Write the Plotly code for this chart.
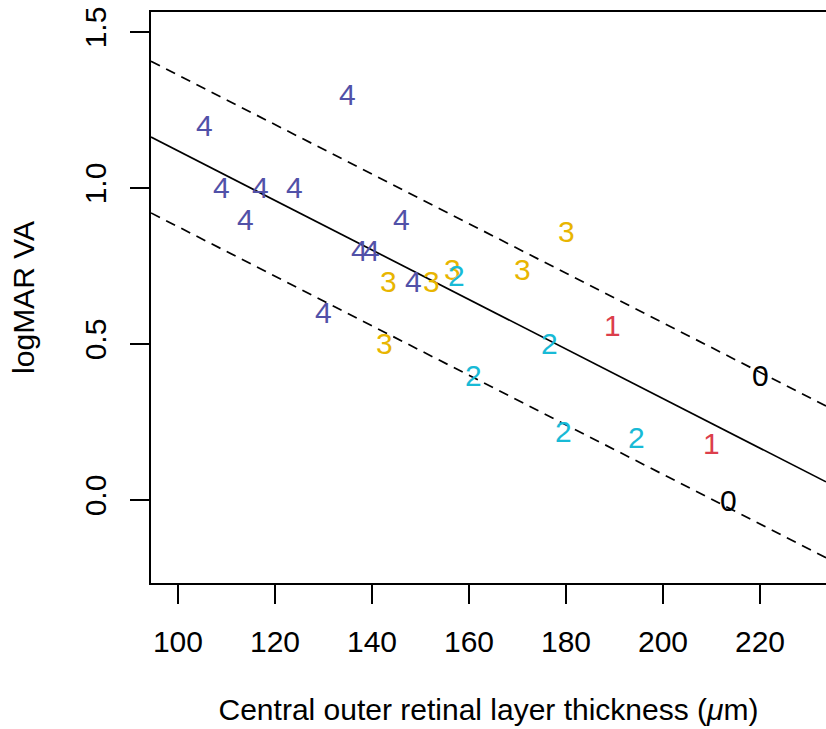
import plotly.graph_objects as go

# Outer retinal layer thickness (um) vs logMAR visual acuity, grouped by grade 0-4
grade4_x = [105.4, 135.0, 109.0, 117.0, 124.0, 114.0, 146.0, 137.5, 140.0, 148.5, 130.0]
grade4_y = [1.20, 1.30, 1.00, 1.00, 1.00, 0.90, 0.90, 0.80, 0.80, 0.70, 0.60]

grade3_x = [143.5, 152.3, 156.5, 171.0, 180.0, 142.5]
grade3_y = [0.70, 0.70, 0.74, 0.74, 0.86, 0.50]

grade2_x = [157.5, 176.5, 161.0, 179.5, 194.5]
grade2_y = [0.72, 0.50, 0.40, 0.22, 0.20]

grade1_x = [189.5, 210.0]
grade1_y = [0.56, 0.18]

grade0_x = [220.0, 213.5]
grade0_y = [0.40, 0.00]

groups = [
    ("4", grade4_x, grade4_y, "#5151A8"),
    ("3", grade3_x, grade3_y, "#E8B500"),
    ("2", grade2_x, grade2_y, "#18BAD6"),
    ("1", grade1_x, grade1_y, "#DC3E4B"),
    ("0", grade0_x, grade0_y, "#000000"),
]

# Linear fit and +/- band
fit_intercept = 1.913
fit_slope = -0.00794
band_halfwidth = 0.243

x_range = [94.44, 233.6]
y_range = [-0.266, 1.564]

x_ticks = [100, 120, 140, 160, 180, 200, 220]
y_ticks = [0.0, 0.5, 1.0, 1.5]
y_tick_labels = ["0.0", "0.5", "1.0", "1.5"]

FONT = "Liberation Sans, Arial, Helvetica, sans-serif"
FS = 30

fig = go.Figure()

line_x = x_range
fit_y = [fit_intercept + fit_slope * v for v in line_x]
upper_y = [y + band_halfwidth for y in fit_y]
lower_y = [y - band_halfwidth for y in fit_y]

fig.add_trace(go.Scatter(x=line_x, y=fit_y, mode="lines",
                         line=dict(color="black", width=1.7), showlegend=False,
                         hoverinfo="skip"))
for band in (upper_y, lower_y):
    fig.add_trace(go.Scatter(x=line_x, y=band, mode="lines",
                             line=dict(color="black", width=1.7, dash="10px,7px"),
                             showlegend=False, hoverinfo="skip"))

# Grade digits plotted as text symbols at each observation
for label, xs, ys, color in groups:
    for xv, yv in zip(xs, ys):
        fig.add_annotation(
            x=xv, y=yv, xref="x", yref="y", text=label, showarrow=False,
            xanchor="center", yanchor="middle",
            font=dict(family=FONT, size=FS, color=color),
        )

fig.update_layout(
    width=826, height=729,
    margin=dict(l=151, r=0, t=12, b=146),
    paper_bgcolor="white", plot_bgcolor="white",
    font=dict(family=FONT, size=FS, color="black"),
    xaxis=dict(
        range=x_range, tickmode="array", tickvals=x_ticks,
        showgrid=False, zeroline=False,
        showline=True, mirror=True, linecolor="black", linewidth=1.7,
        ticks="outside", ticklen=19, tickwidth=1.7, tickcolor="black",
        ticklabelstandoff=12,
        tickfont=dict(family=FONT, size=FS, color="black"),
        title=dict(text="Central outer retinal layer thickness (<i>μ</i>m)",
                   font=dict(family=FONT, size=FS, color="black"), standoff=42),
    ),
    yaxis=dict(
        range=y_range, tickmode="array", tickvals=y_ticks, ticktext=y_tick_labels,
        showgrid=False, zeroline=False,
        showline=True, linecolor="black", linewidth=1.7,
        ticks="outside", ticklen=19, tickwidth=1.7, tickcolor="black",
        tickangle=-90, ticklabelstandoff=12,
        tickfont=dict(family=FONT, size=FS, color="black"),
        title=dict(text="logMAR VA",
                   font=dict(family=FONT, size=FS, color="black"), standoff=36),
    ),
)

fig.write_html("out.html")
